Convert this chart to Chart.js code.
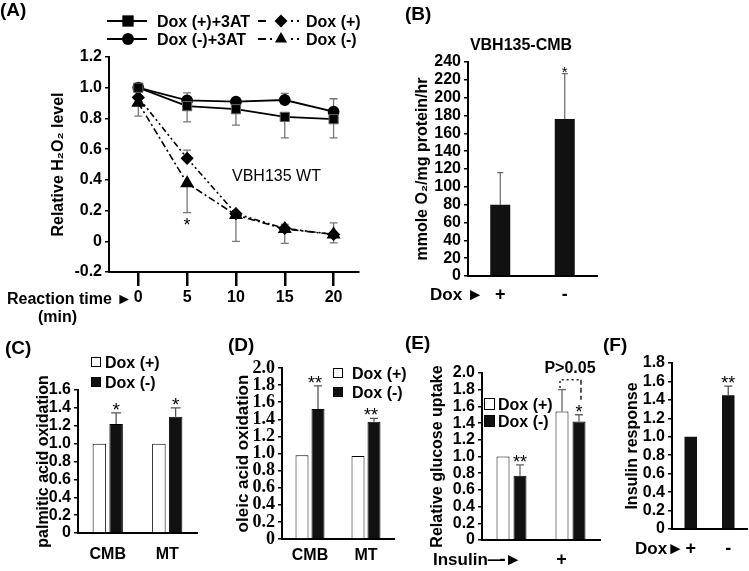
<!DOCTYPE html>
<html>
<head>
<meta charset="utf-8">
<script src="https://cdn.jsdelivr.net/npm/chart.js@4/dist/chart.umd.min.js"></script>
<style>
  html, body { margin: 0; padding: 0; background: #fff; }
  #wrap { position: relative; width: 749px; height: 571px; background: #fff; overflow: hidden; }
  #wrap canvas { position: absolute; left: 0; top: 0; }
  .t { position: absolute; white-space: nowrap; line-height: 1.2; color: #000;
       font-family: 'Liberation Sans', Arial, Helvetica, sans-serif; z-index: 5; }
  .box { position: absolute; box-sizing: border-box; border: 1px solid #000; z-index: 5; }
</style>
</head>
<body>
<div id="wrap">
  <canvas id="cA" width="749" height="571"></canvas>
  <canvas id="cB" width="749" height="571"></canvas>
  <canvas id="cC" width="749" height="571"></canvas>
  <canvas id="cD" width="749" height="571"></canvas>
  <canvas id="cE" width="749" height="571"></canvas>
  <canvas id="cF" width="749" height="571"></canvas>
</div>
<script>
// ================= DATA =================
// (A) relative H2O2 level vs reaction time
const timesA = [0, 5, 10, 15, 20];
const xTicksA = [0, 5, 10, 15, 20];
const yTicksA = [-0.2, 0, 0.2, 0.4, 0.6, 0.8, 1.0, 1.2];
const doxPlus3AT = [1.0, 0.88, 0.86, 0.81, 0.795];
const doxPlus3ATLo = [null, 0.778, 0.757, 0.674, 0.674];
const doxMinus3AT = [1.0, 0.918, 0.909, 0.92, 0.844];
const doxMinus3ATHi = [null, 0.967, null, 0.963, 0.928];
const doxPlusA = [0.937, 0.54, 0.18, 0.084, 0.045];
const doxPlusAHi = [null, 0.594, null, 0.11, null];
const doxMinusA = [0.902, 0.378, 0.171, 0.08, 0.045];
const doxMinusALo = [0.815, 0.186, 0.0, -0.013, -0.01];
const doxMinusAHi = [null, null, null, null, 0.12];
const starsA = ['', '*', '', '', ''];

// (B) VBH135-CMB oxygen consumption
const labelsB = ['+', '-'];
const yTicksB = [0, 20, 40, 60, 80, 100, 120, 140, 160, 180, 200, 220, 240];
const valuesB = [80, 176];
const errB = [116, 227];
const starsB = ['', '*'];

// (C) palmitic acid oxidation
const labelsC = ['CMB', 'MT'];
const yTicksC = [0, 0.2, 0.4, 0.6, 0.8, 1.0, 1.2, 1.4, 1.6];
const doxPlusC = [1.0, 1.0];
const doxMinusC = [1.22, 1.30];
const doxMinusCErr = [1.345, 1.40];
const starsC = ['*', '*'];

// (D) oleic acid oxidation
const labelsD = ['CMB', 'MT'];
const yTicksD = [0, 0.2, 0.4, 0.6, 0.8, 1.0, 1.2, 1.4, 1.6, 1.8, 2.0];
const doxPlusD = [0.98, 0.97];
const doxMinusD = [1.52, 1.37];
const doxMinusDErr = [1.79, 1.41];
const starsD = ['**', '**'];

// (E) relative glucose uptake
const labelsE = ['-', '+'];
const yTicksE = [0, 0.2, 0.4, 0.6, 0.8, 1.0, 1.2, 1.4, 1.6, 1.8, 2.0];
const doxPlusE = [1.0, 1.54];
const doxPlusEErr = [null, 1.80];
const doxMinusE = [0.77, 1.42];
const doxMinusEErr = [0.90, 1.50];
const starsE = ['**', '*'];

// (F) insulin response
const labelsF = ['+', '-'];
const yTicksF = [0, 0.2, 0.4, 0.6, 0.8, 1.0, 1.2, 1.4, 1.6, 1.8];
const valuesF = [1.0, 1.45];
const errF = [null, 1.55];
const starsF = ['', '**'];

// ================= LAYOUT =================
const W = 749, H = 571;
const FONT = "'Liberation Sans', Arial, Helvetica, sans-serif";
const SERIF = "'Liberation Serif', 'Times New Roman', serif";
Chart.defaults.font.family = FONT;
Chart.defaults.color = '#000';

const areaA = { left: 109, top: 57, right: 358, bottom: 272 };
const areaB = { left: 468, top: 62, right: 597, bottom: 276 };
const areaC = { left: 78, top: 390, right: 197, bottom: 533 };
const areaD = { left: 282, top: 368, right: 394, bottom: 539 };
const areaE = { left: 482, top: 373, right: 600, bottom: 540 };
const areaF = { left: 672, top: 363, right: 747, bottom: 529 };

const fmt1 = v => (v === 0 ? '0' : Number(v).toFixed(1));
const fmt0 = v => String(v);

function fit(area) {
  return { padding: { left: 0, top: area.top, right: W - area.right, bottom: 0 } };
}
function yScale(area, ticksArr, fmt, tickFont, title, titleX, titleSize) {
  return {
    type: 'linear',
    min: ticksArr[0], max: ticksArr[ticksArr.length - 1],
    afterFit: s => { s.width = area.left; },
    afterBuildTicks: s => { s.ticks = ticksArr.map(v => ({ value: v })); },
    grid: { drawOnChartArea: false, drawTicks: true, tickLength: 4, color: '#000', lineWidth: 1.5 },
    border: { display: true, color: '#000', width: 2 },
    ticks: { callback: fmt, font: tickFont, color: '#000', padding: 3, autoSkip: false },
    title: { display: true, text: title, color: '#000',
             font: { size: titleSize, weight: 'bold', family: FONT },
             padding: { top: titleX - titleSize * 0.6, bottom: 0 } }
  };
}
function xCat(area, size, pad, labelOffset) {
  return {
    type: 'category', offset: true,
    afterFit: s => { s.height = H - area.bottom; },
    grid: { display: false, drawTicks: false },
    border: { display: true, color: '#000', width: 2 },
    ticks: { font: { size: size, weight: 'bold', family: FONT }, color: '#000', padding: pad,
             labelOffset: labelOffset || 0, maxRotation: 0, autoSkip: false }
  };
}

// error bars + significance stars
const errorPlugin = {
  id: 'errs',
  beforeDatasetsDraw(chart) {
    const o = chart.options.plugins.errs || {};
    const ctx = chart.ctx, ys = chart.scales.y, cap = o.cap || 4;
    ctx.save();
    ctx.strokeStyle = o.color || '#555';
    ctx.lineWidth = o.width || 1.2;
    chart.data.datasets.forEach((ds, i) => {
      const meta = chart.getDatasetMeta(i);
      ['errHi', 'errLo'].forEach(k => {
        (ds[k] || []).forEach((v, j) => {
          if (v == null) return;
          const el = meta.data[j];
          const y1 = ys.getPixelForValue(v);
          ctx.beginPath();
          ctx.moveTo(el.x, el.y); ctx.lineTo(el.x, y1);
          ctx.moveTo(el.x - cap, y1); ctx.lineTo(el.x + cap, y1);
          ctx.stroke();
        });
      });
    });
    ctx.restore();
  },
  afterDatasetsDraw(chart) {
    const o = chart.options.plugins.errs || {};
    const ctx = chart.ctx, ys = chart.scales.y;
    ctx.save();
    ctx.fillStyle = '#000';
    ctx.font = (o.starSize || 18) + 'px ' + FONT;
    ctx.textAlign = 'center';
    ctx.textBaseline = 'alphabetic';
    chart.data.datasets.forEach((ds, i) => {
      if (!ds.stars) return;
      const meta = chart.getDatasetMeta(i);
      ds.stars.forEach((s, j) => {
        if (!s) return;
        const el = meta.data[j];
        if (ds.starBelow) {
          const y = ys.getPixelForValue(ds.errLo[j]);
          ctx.fillText(s, el.x, y + 18);
        } else {
          const top = (ds.errHi && ds.errHi[j] != null) ? ys.getPixelForValue(ds.errHi[j]) : el.y;
          ctx.fillText(s, el.x - (o.starDx || 0), top + 3);
        }
      });
    });
    ctx.restore();
  }
};

function marker(ctx, style, x, y, r) {
  ctx.beginPath();
  if (style === 'rect') { const s = r * Math.SQRT1_2; ctx.rect(x - s, y - s, 2 * s, 2 * s); }
  else if (style === 'circle') { ctx.arc(x, y, r, 0, Math.PI * 2); }
  else if (style === 'rectRot') { ctx.moveTo(x, y - r); ctx.lineTo(x + r, y); ctx.lineTo(x, y + r); ctx.lineTo(x - r, y); ctx.closePath(); }
  else if (style === 'triangle') {
    ctx.moveTo(x, y - r);
    ctx.lineTo(x + r * Math.sin(Math.PI * 2 / 3), y - r * Math.cos(Math.PI * 2 / 3));
    ctx.lineTo(x - r * Math.sin(Math.PI * 2 / 3), y - r * Math.cos(Math.PI * 2 / 3));
    ctx.closePath();
  }
  ctx.fill();
}

// legend symbols for panel A
const legendAPlugin = {
  id: 'legendA',
  afterDraw(chart) {
    const ctx = chart.ctx;
    ctx.save();
    ctx.strokeStyle = '#000'; ctx.fillStyle = '#000';
    // solid lines
    ctx.lineWidth = 2;
    [[21, 'rect', 8], [39, 'circle', 6]].forEach(([y, st, r]) => {
      ctx.beginPath(); ctx.moveTo(107, y); ctx.lineTo(147, y); ctx.stroke();
      marker(ctx, st, 128, y, r);
    });
    // dash-dot symbols
    ctx.lineWidth = 1.8;
    [[21, 'rectRot', 6.5], [39, 'triangle', 7]].forEach(([y, st, r]) => {
      ctx.beginPath();
      ctx.moveTo(258, y); ctx.lineTo(266, y);
      ctx.moveTo(291, y); ctx.lineTo(293, y);
      ctx.moveTo(297, y); ctx.lineTo(299, y);
      if (st === 'triangle') { ctx.moveTo(270, y); ctx.lineTo(272, y); }
      ctx.stroke();
      marker(ctx, st, 281, y, r);
    });
    ctx.restore();
  }
};

// P>0.05 bracket for panel E
const bracketPlugin = {
  id: 'bracketE',
  afterDatasetsDraw(chart) {
    const o = chart.options.plugins.bracketE;
    if (!o) return;
    const ctx = chart.ctx, ys = chart.scales.y;
    const a = chart.getDatasetMeta(0).data[o.idx];
    const b = chart.getDatasetMeta(1).data[o.idx];
    const yTop = ys.getPixelForValue(o.top);
    ctx.save();
    ctx.strokeStyle = '#222'; ctx.lineWidth = 1.5;
    ctx.setLineDash([2, 3]);
    ctx.beginPath();
    ctx.moveTo(a.x - 2, ys.getPixelForValue(o.leftEnd));
    ctx.lineTo(a.x - 2, yTop);
    ctx.lineTo(b.x + 2, yTop);
    ctx.stroke();
    ctx.setLineDash([5, 3]);
    ctx.beginPath();
    ctx.moveTo(b.x + 2, yTop);
    ctx.lineTo(b.x + 2, ys.getPixelForValue(o.rightEnd));
    ctx.stroke();
    ctx.restore();
  }
};

const baseOpts = { responsive: false, animation: false, events: [] };
const noLegend = { legend: { display: false }, tooltip: { enabled: false } };

// ---------- (A) ----------
const pts = arr => timesA.map((t, i) => ({ x: t, y: arr[i] }));
new Chart(document.getElementById('cA'), {
  type: 'line',
  data: {
    datasets: [
      { label: 'Dox (+)+3AT', data: pts(doxPlus3AT), errLo: doxPlus3ATLo,
        borderColor: '#000', backgroundColor: '#000', borderWidth: 1.8, tension: 0,
        pointStyle: 'rect', pointRadius: 6.5, pointBorderColor: '#666', pointBorderWidth: 1, pointBackgroundColor: '#000' },
      { label: 'Dox (-)+3AT', data: pts(doxMinus3AT), errHi: doxMinus3ATHi,
        borderColor: '#000', backgroundColor: '#000', borderWidth: 1.8, tension: 0,
        pointStyle: 'circle', pointRadius: 5, pointBorderColor: '#000', pointBackgroundColor: '#000' },
      { label: 'Dox (+)', data: pts(doxPlusA), errHi: doxPlusAHi,
        borderColor: '#000', backgroundColor: '#000', borderWidth: 1.6, borderDash: [6, 3, 2, 3, 2, 3], tension: 0,
        pointStyle: 'rectRot', pointRadius: 5.5, pointBorderColor: '#000', pointBackgroundColor: '#000' },
      { label: 'Dox (-)', data: pts(doxMinusA), errLo: doxMinusALo, errHi: doxMinusAHi, stars: starsA, starBelow: true,
        borderColor: '#000', backgroundColor: '#000', borderWidth: 1.6, borderDash: [7, 3, 2, 3], tension: 0,
        pointStyle: 'triangle', pointRadius: 6.5, pointBorderColor: '#000', pointBackgroundColor: '#000' }
    ]
  },
  options: Object.assign({}, baseOpts, {
    layout: fit(areaA),
    plugins: Object.assign({}, noLegend, { errs: { cap: 4, color: '#777', width: 1.3, starSize: 18 } }),
    scales: {
      x: {
        type: 'linear', min: -3, max: 22.5,
        afterFit: s => { s.height = H - areaA.bottom; },
        afterBuildTicks: s => { s.ticks = xTicksA.map(v => ({ value: v })); },
        grid: { drawOnChartArea: false, drawTicks: true, tickLength: 14, lineWidth: 2.5, color: '#000' },
        border: { display: true, color: '#000', width: 2 },
        ticks: { callback: fmt0, font: { size: 16, weight: 'bold' }, color: '#000', padding: 2.4, maxRotation: 0, autoSkip: false }
      },
      y: yScale(areaA, yTicksA, fmt1, { size: 16, weight: 'bold', family: FONT }, 'Relative H\u2082O\u2082 level', 59, 16)
    }
  }),
  plugins: [errorPlugin, legendAPlugin]
});

// ---------- (B) ----------
new Chart(document.getElementById('cB'), {
  type: 'bar',
  data: { labels: labelsB, datasets: [
    { data: valuesB, errHi: errB, stars: starsB, backgroundColor: '#111', borderWidth: 0,
      barPercentage: 0.31, categoryPercentage: 1 }
  ] },
  options: Object.assign({}, baseOpts, {
    layout: fit(areaB),
    plugins: Object.assign({}, noLegend, { errs: { cap: 3, color: '#666', width: 1.2, starSize: 15 } }),
    scales: {
      x: xCat(areaB, 18, 8),
      y: yScale(areaB, yTicksB, fmt0, { size: 16, weight: 'bold', family: FONT }, 'mmole O\u2082/mg protein/hr', 423, 16)
    }
  }),
  plugins: [errorPlugin]
});

// ---------- (C) ----------
new Chart(document.getElementById('cC'), {
  type: 'bar',
  data: { labels: labelsC, datasets: [
    { label: 'Dox (+)', data: doxPlusC, backgroundColor: '#fff', borderColor: '#000', borderWidth: 1,
      barPercentage: 0.806, categoryPercentage: 0.563 },
    { label: 'Dox (-)', data: doxMinusC, errHi: doxMinusCErr, stars: starsC, backgroundColor: '#111', borderColor: '#000', borderWidth: 1,
      barPercentage: 0.806, categoryPercentage: 0.563 }
  ] },
  options: Object.assign({}, baseOpts, {
    layout: fit(areaC),
    plugins: Object.assign({}, noLegend, { errs: { cap: 5, color: '#555', width: 1.3, starSize: 19 } }),
    scales: {
      x: xCat(areaC, 16, 12.4),
      y: yScale(areaC, yTicksC, fmt1, { size: 16, weight: 'bold', family: FONT }, 'palmitic acid oxidation', 44, 16)
    }
  }),
  plugins: [errorPlugin]
});

// ---------- (D) ----------
new Chart(document.getElementById('cD'), {
  type: 'bar',
  data: { labels: labelsD, datasets: [
    { label: 'Dox (+)', data: doxPlusD, backgroundColor: '#fff', borderColor: '#000', borderWidth: 1,
      barPercentage: 0.8125, categoryPercentage: 0.571 },
    { label: 'Dox (-)', data: doxMinusD, errHi: doxMinusDErr, stars: starsD, backgroundColor: '#111', borderColor: '#000', borderWidth: 1,
      barPercentage: 0.8125, categoryPercentage: 0.571 }
  ] },
  options: Object.assign({}, baseOpts, {
    layout: fit(areaD),
    plugins: Object.assign({}, noLegend, { errs: { cap: 4, color: '#555', width: 1.3, starSize: 18, starDx: 3 } }),
    scales: {
      x: xCat(areaD, 16, 7.4),
      y: yScale(areaD, yTicksD, fmt1, { size: 18, weight: 'bold', family: SERIF }, 'oleic acid oxidation', 243, 17)
    }
  }),
  plugins: [errorPlugin]
});

// ---------- (E) ----------
new Chart(document.getElementById('cE'), {
  type: 'bar',
  data: { labels: labelsE, datasets: [
    { label: 'Dox (+)', data: doxPlusE, errHi: doxPlusEErr, backgroundColor: '#fff', borderColor: '#000', borderWidth: 1,
      barPercentage: 0.765, categoryPercentage: 0.576 },
    { label: 'Dox (-)', data: doxMinusE, errHi: doxMinusEErr, stars: starsE, backgroundColor: '#111', borderColor: '#000', borderWidth: 1,
      barPercentage: 0.765, categoryPercentage: 0.576 }
  ] },
  options: Object.assign({}, baseOpts, {
    layout: fit(areaE),
    plugins: Object.assign({}, noLegend, {
      errs: { cap: 4, color: '#666', width: 1.3, starSize: 18 },
      bracketE: { idx: 1, top: 1.92, leftEnd: 1.82, rightEnd: 1.68 }
    }),
    scales: {
      x: xCat(areaE, 18, 9, -9),
      y: yScale(areaE, yTicksE, fmt1, { size: 16, weight: 'bold', family: FONT }, 'Relative glucose uptake', 438, 16)
    }
  }),
  plugins: [errorPlugin, bracketPlugin]
});

// ---------- (F) ----------
new Chart(document.getElementById('cF'), {
  type: 'bar',
  data: { labels: labelsF, datasets: [
    { data: valuesF, errHi: errF, stars: starsF, backgroundColor: '#111', borderWidth: 0,
      barPercentage: 0.333, categoryPercentage: 1 }
  ] },
  options: Object.assign({}, baseOpts, {
    layout: fit(areaF),
    plugins: Object.assign({}, noLegend, { errs: { cap: 4, color: '#555', width: 1.3, starSize: 18 } }),
    scales: {
      x: xCat(areaF, 18, 9),
      y: yScale(areaF, yTicksF, fmt1, { size: 16, weight: 'bold', family: FONT }, 'Insulin response', 633, 16)
    }
  }),
  plugins: [errorPlugin]
});

// ================= TEXT ANNOTATIONS =================
const wrap = document.getElementById('wrap');
function txt(s, x, cy, size, weight, align) {
  const d = document.createElement('div');
  d.className = 't';
  d.textContent = s;
  d.style.fontSize = size + 'px';
  d.style.fontWeight = weight || 'bold';
  d.style.top = (cy - 0.59 * size) + 'px';
  if (align === 'center') { d.style.left = x + 'px'; d.style.transform = 'translateX(-50%)'; }
  else d.style.left = x + 'px';
  wrap.appendChild(d);
}
function box(x, y, w, h, fill) {
  const d = document.createElement('div');
  d.className = 'box';
  Object.assign(d.style, { left: x + 'px', top: y + 'px', width: w + 'px', height: h + 'px', background: fill });
  wrap.appendChild(d);
}
// panel letters
txt('(A)', 0, 10, 19); txt('(B)', 405, 14, 19); txt('(C)', 5, 348, 19);
txt('(D)', 228, 345, 19); txt('(E)', 405, 343, 19); txt('(F)', 603, 345, 19);
// (A)
txt('Dox (+)+3AT', 157, 21, 16); txt('Dox (-)+3AT', 157, 39, 16);
txt('Dox (+)', 306, 21, 16); txt('Dox (-)', 306, 39, 16);
txt('VBH135 WT', 232, 175, 16, 'normal');
txt('Reaction time \u25BA', 7, 298, 16); txt('(min)', 38, 316, 16);
// (B)
txt('VBH135-CMB', 521, 44, 16, 'bold', 'center');
txt('Dox \u25BA', 430, 295, 17);
// (C)
box(91, 357, 10, 10, '#fff'); box(91, 377, 10, 10, '#111');
txt('Dox (+)', 105, 362, 16); txt('Dox (-)', 105, 382, 16);
// (D)
box(333, 368, 10, 10, '#fff'); box(333, 387, 10, 10, '#111');
txt('Dox (+)', 352, 373, 16); txt('Dox (-)', 352, 392, 16);
// (E)
box(484, 398, 11, 12, '#fff'); box(484, 415, 11, 12, '#111');
txt('Dox (+)', 498, 404, 16); txt('Dox (-)', 498, 421, 16);
txt('P>0.05', 570, 367, 16, 'bold', 'center');
txt('Insulin\u2014\u25BA', 433, 560, 17);
// (F)
txt('Dox\u25BA', 635, 549, 17);
</script>
</body>
</html>
